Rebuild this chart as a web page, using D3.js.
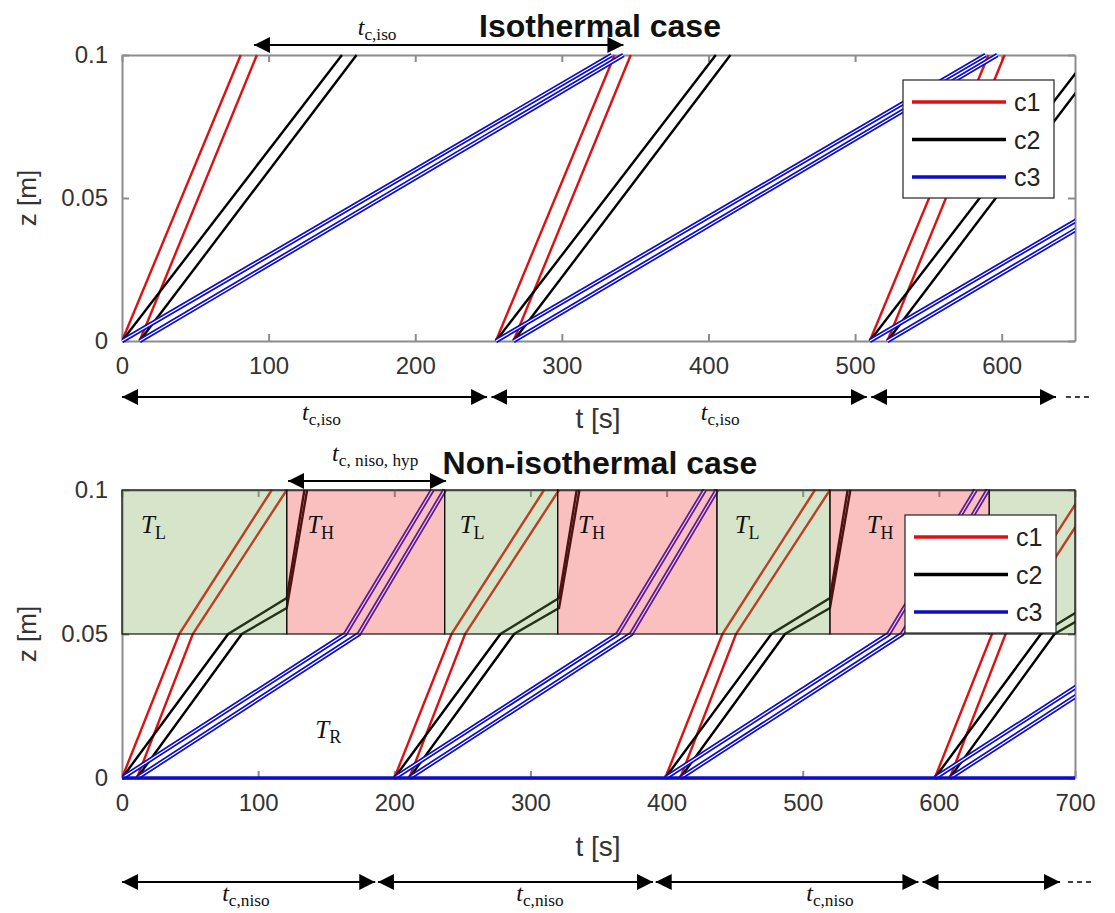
<!DOCTYPE html>
<html>
<head>
<meta charset="utf-8">
<script src="https://cdn.jsdelivr.net/npm/d3@7"></script>
<style>body{margin:0;background:#fff;}</style>
</head>
<body>
<script>
// ---- isothermal case: cycle starts [s], each line = [leaves z=0, reaches z=0.1] relative to cycle start
var isoCycles = [0, 255, 510];
var isoC1 = [[0, 81], [12, 92]];
var isoC2 = [[0, 150], [12, 160]];
var isoC3 = [[0, 334], [12, 342]];

// ---- non-isothermal case: cycle starts [s], each line = [t, z] breakpoints relative to cycle start
var nisoCycles = [0, 200, 399, 597];
var nisoC1 = [[[0, 0], [42, 0.05], [110, 0.1]], [[11, 0], [52, 0.05], [121, 0.1]]];
var nisoC2 = [[[0, 0], [78, 0.05], [121, 0.0625], [134, 0.1]], [[11, 0], [88, 0.05], [121, 0.059], [136, 0.1]]];
var nisoC3 = [[[0, 0], [164, 0.05], [228, 0.1]], [[11, 0], [174, 0.05], [237, 0.1]]];
var nisoBase = [[0, 0], [700, 0]];

// temperature zones of the upper half (z 0.05..0.1)
var zoneStart = [0, 121, 237, 320, 437, 520, 637];
var zoneEnd = [121, 237, 320, 437, 520, 637, 700];
var zoneType = ['L', 'H', 'L', 'H', 'L', 'H', 'L'];
var zoneLabelT = [14, 136, 248, 335, 450, 547, null];

// ticks
var isoXTicks = [0, 100, 200, 300, 400, 500, 600];
var nisoXTicks = [0, 100, 200, 300, 400, 500, 600, 700];
var zTicks = [0, 0.05, 0.1];
var zTickLabels = ['0', '0.05', '0.1'];

// cycle-time annotations [from, to] in s
var isoSpanTop = [90, 342];
var isoSpans = [[0, 249], [252, 508], [511, 637]];
var isoSpanLabels = [136, 408];
var nisoSpanTop = [122, 238];
var nisoSpans = [[0, 186], [188, 390], [392, 585], [588, 689]];
var nisoSpanLabels = [91, 307, 520];

var legendNames = ['c1', 'c2', 'c3'];
var colors = {c1: '#dd1111', c2: '#000000', c3: '#0c0cc8'};

//Setup
var W = 1115, H = 913;
var svg = d3.select('body').append('svg')
	.attr('width', W).attr('height', H)
	.style('font-family', '"Liberation Sans", Arial, sans-serif');

var defs = svg.append('defs');
defs.append('marker')
	.attr('id', 'head')
	.attr('viewBox', '0 0 10 10')
	.attr('refX', 10).attr('refY', 5)
	.attr('markerUnits', 'userSpaceOnUse')
	.attr('markerWidth', 16).attr('markerHeight', 17)
	.attr('orient', 'auto-start-reverse')
	.append('path').attr('d', 'M0,0L10,5L0,10Z').attr('fill', '#000');

var boxIso = {x0: 122, x1: 1075, y0: 55, y1: 341};
var boxNiso = {x0: 122, x1: 1075, y0: 490, y1: 778};

var xIso = d3.scaleLinear().domain([0, 650]).range([boxIso.x0, boxIso.x1]);
var yIso = d3.scaleLinear().domain([0, 0.1]).range([boxIso.y1, boxIso.y0]);
var xNiso = d3.scaleLinear().domain([0, 700]).range([boxNiso.x0, boxNiso.x1]);
var yNiso = d3.scaleLinear().domain([0, 0.1]).range([boxNiso.y1, boxNiso.y0]);

function drawAxes(g, x, y, xticks) {
	var r = y.range();
	g.append('g').attr('class', 'ax').attr('transform', 'translate(0,' + r[0] + ')')
		.call(d3.axisBottom(x).tickValues(xticks).tickSizeInner(-7).tickSizeOuter(0).tickPadding(16).tickFormat(d3.format('d')));
	g.append('g').attr('class', 'ax').attr('transform', 'translate(0,' + r[1] + ')')
		.call(d3.axisTop(x).tickValues(xticks).tickSizeInner(-7).tickSizeOuter(0).tickFormat(''));
	g.append('g').attr('class', 'ax').attr('transform', 'translate(' + x.range()[0] + ',0)')
		.call(d3.axisLeft(y).tickValues(zTicks).tickSizeInner(-7).tickSizeOuter(0).tickPadding(14)
			.tickFormat(function(d, i) { return zTickLabels[i]; }));
	g.append('g').attr('class', 'ax').attr('transform', 'translate(' + x.range()[1] + ',0)')
		.call(d3.axisRight(y).tickValues(zTicks).tickSizeInner(-7).tickSizeOuter(0).tickFormat(''));
	g.selectAll('.ax path, .ax line').attr('stroke', '#8c8c8c').attr('stroke-width', 2);
	g.selectAll('.ax text').attr('font-size', 24).attr('fill', '#333').attr('font-family', '"Liberation Sans", Arial, sans-serif');
	// axis title
	g.append('text')
		.attr('transform', 'translate(36,' + (r[0] + r[1]) / 2 + ') rotate(-90)')
		.attr('text-anchor', 'middle').attr('font-size', 26).attr('fill', '#333')
		.text('z [m]');
}

function drawPath(g, pts, x, y, color, isDouble, width) {
	var line = d3.line().x(function(d) { return x(d[0]); }).y(function(d) { return y(d[1]); });
	if (isDouble) {
		g.append('path').attr('d', line(pts)).attr('fill', 'none').attr('stroke', color).attr('stroke-width', 4.6);
		g.append('path').attr('d', line(pts)).attr('fill', 'none').attr('stroke', '#fff').attr('stroke-width', 1.2);
	} else {
		g.append('path').attr('d', line(pts)).attr('fill', 'none').attr('stroke', color).attr('stroke-width', width || 2.4);
	}
}

function drawLegend(g, lx, ly) {
	var lg = g.append('g').attr('transform', 'translate(' + lx + ',' + ly + ')');
	lg.append('rect').attr('width', 151).attr('height', 118).attr('fill', '#fff').attr('stroke', '#222').attr('stroke-width', 1.2);
	legendNames.forEach(function(n, i) {
		var yy = 22 + i * 37.5;
		lg.append('line').attr('x1', 9).attr('x2', 103).attr('y1', yy).attr('y2', yy)
			.attr('stroke', colors[n]).attr('stroke-width', 3.5);
		lg.append('text').attr('x', 111).attr('y', yy + 9).attr('font-size', 25).attr('fill', '#222').text(n);
	});
}

function mathText(g, x, y, main, sub, size, anchor) {
	var t = g.append('text').attr('x', x).attr('y', y)
		.attr('font-family', '"Liberation Serif", "DejaVu Serif", serif')
		.attr('font-size', size).attr('text-anchor', anchor || 'middle').attr('fill', '#111');
	t.append('tspan').attr('font-style', 'italic').text(main);
	t.append('tspan').attr('font-size', size * 0.72).attr('dy', size * 0.22).text(sub);
	return t;
}

function arrow(g, x1, x2, y) {
	g.append('line').attr('x1', x1).attr('x2', x2).attr('y1', y).attr('y2', y)
		.attr('stroke', '#000').attr('stroke-width', 2)
		.attr('marker-start', 'url(#head)').attr('marker-end', 'url(#head)');
}

function dashes(g, x1, y) {
	g.append('line').attr('x1', x1).attr('x2', x1 + 26).attr('y1', y).attr('y2', y)
		.attr('stroke', '#000').attr('stroke-width', 1.6).attr('stroke-dasharray', '5,4');
}

// ---------- Isothermal ----------
var g1 = svg.append('g');
drawAxes(g1, xIso, yIso, isoXTicks);
defs.append('clipPath').attr('id', 'clipIso').append('rect')
	.attr('x', boxIso.x0).attr('y', boxIso.y0 - 4).attr('width', boxIso.x1 - boxIso.x0).attr('height', boxIso.y1 - boxIso.y0 + 8);
var l1 = g1.append('g').attr('clip-path', 'url(#clipIso)');
[['c1', isoC1], ['c2', isoC2], ['c3', isoC3]].forEach(function(c) {
	isoCycles.forEach(function(t0) {
		c[1].forEach(function(ln) {
			drawPath(l1, [[t0 + ln[0], 0], [t0 + ln[1], 0.1]], xIso, yIso, colors[c[0]], c[0] === 'c3');
		});
	});
});
drawLegend(g1, 903, 80);

g1.append('text').attr('x', 600).attr('y', 37).attr('text-anchor', 'middle')
	.attr('font-size', 32).attr('font-weight', 'bold').attr('fill', '#111').text('Isothermal case');
arrow(g1, xIso(isoSpanTop[0]), xIso(isoSpanTop[1]), 45);
mathText(g1, xIso(174), 35, 't', 'c,iso', 24);
isoSpans.forEach(function(s) { arrow(g1, xIso(s[0]), xIso(s[1]), 397); });
dashes(g1, xIso(isoSpans[2][1]) + 10, 397);
isoSpanLabels.forEach(function(t) { mathText(g1, xIso(t), 420, 't', 'c,iso', 24); });
g1.append('text').attr('x', 598).attr('y', 428).attr('text-anchor', 'middle')
	.attr('font-size', 28).attr('fill', '#333').text('t [s]');

// ---------- Non-isothermal ----------
var g2 = svg.append('g');
drawAxes(g2, xNiso, yNiso, nisoXTicks);
defs.append('clipPath').attr('id', 'clipNiso').append('rect')
	.attr('x', boxNiso.x0).attr('y', boxNiso.y0 - 4).attr('width', boxNiso.x1 - boxNiso.x0).attr('height', boxNiso.y1 - boxNiso.y0 + 8);
var l2 = g2.append('g').attr('clip-path', 'url(#clipNiso)');
[['c1', nisoC1], ['c2', nisoC2], ['c3', nisoC3]].forEach(function(c) {
	nisoCycles.forEach(function(t0) {
		c[1].forEach(function(ln) {
			drawPath(l2, ln.map(function(p) { return [t0 + p[0], p[1]]; }), xNiso, yNiso, colors[c[0]], c[0] === 'c3');
		});
	});
});
drawPath(l2, nisoBase, xNiso, yNiso, colors.c3, false, 3.6);

// temperature zones drawn over the lines
var zones = g2.append('g');
zoneStart.forEach(function(s, i) {
	zones.append('rect')
		.attr('x', xNiso(s)).attr('y', yNiso(0.1))
		.attr('width', xNiso(zoneEnd[i]) - xNiso(s)).attr('height', yNiso(0.05) - yNiso(0.1))
		.attr('fill', zoneType[i] === 'L' ? 'rgba(120,170,80,0.3)' : 'rgba(240,60,60,0.32)')
		.attr('stroke', '#111').attr('stroke-width', 1.2);
	if (zoneLabelT[i] !== null) mathText(zones, xNiso(zoneLabelT[i]), yNiso(0.085), 'T', zoneType[i], 25, 'start');
});
mathText(g2, xNiso(142), yNiso(0.014), 'T', 'R', 25, 'start');
drawLegend(g2, 905, 515);

g2.append('text').attr('x', 600).attr('y', 474).attr('text-anchor', 'middle')
	.attr('font-size', 32).attr('font-weight', 'bold').attr('fill', '#111').text('Non-isothermal case');
arrow(g2, xNiso(nisoSpanTop[0]), xNiso(nisoSpanTop[1]), 481);
mathText(g2, xNiso(186), 461, 't', 'c, niso, hyp', 24);
g2.append('text').attr('x', 598).attr('y', 856).attr('text-anchor', 'middle')
	.attr('font-size', 28).attr('fill', '#333').text('t [s]');
nisoSpans.forEach(function(s) { arrow(g2, xNiso(s[0]), xNiso(s[1]), 882); });
dashes(g2, xNiso(nisoSpans[3][1]) + 8, 882);
nisoSpanLabels.forEach(function(t) { mathText(g2, xNiso(t), 901, 't', 'c,niso', 24); });
</script>
</body>
</html>
